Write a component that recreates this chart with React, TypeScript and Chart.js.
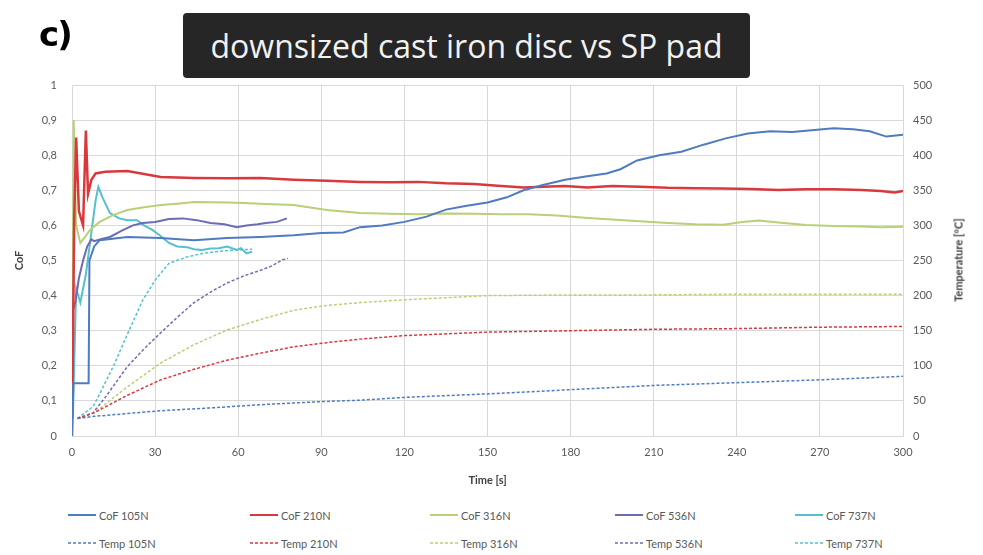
import React, { useEffect, useRef } from 'react';
import { Chart, registerables } from 'chart.js';

Chart.register(...registerables);

// ---------- data ----------
const xTicks = [0, 30, 60, 90, 120, 150, 180, 210, 240, 270, 300];

const cof105T = [0, 0.5, 6, 6.3, 8, 10, 20, 32, 44, 56, 68, 80, 90, 98, 104, 112, 120, 128, 135, 142, 150, 157, 163, 170, 178, 186, 193, 198, 204, 212, 220, 228, 236, 244, 252, 260, 268, 275, 282, 288, 294, 300];
const cof105V = [0, 0.15, 0.15, 0.5, 0.54, 0.558, 0.567, 0.564, 0.558, 0.564, 0.567, 0.572, 0.578, 0.58, 0.595, 0.6, 0.61, 0.625, 0.645, 0.655, 0.665, 0.68, 0.7, 0.715, 0.73, 0.74, 0.748, 0.76, 0.785, 0.8, 0.81, 0.83, 0.848, 0.862, 0.868, 0.866, 0.872, 0.877, 0.874, 0.868, 0.853, 0.858];

const cof210T = [0, 0.8, 1.5, 2.5, 4, 5, 5.8, 7, 8.5, 12, 20, 32, 44, 56, 68, 80, 92, 104, 115, 125, 135, 145, 155, 163, 170, 178, 186, 195, 205, 215, 225, 235, 245, 255, 265, 275, 285, 292, 297, 300];
const cof210V = [0, 0.62, 0.85, 0.64, 0.6, 0.87, 0.69, 0.73, 0.748, 0.753, 0.755, 0.738, 0.735, 0.734, 0.735, 0.73, 0.727, 0.724, 0.723, 0.724, 0.72, 0.718, 0.712, 0.708, 0.71, 0.712, 0.708, 0.712, 0.71, 0.707, 0.706, 0.705, 0.704, 0.701, 0.703, 0.703, 0.701, 0.698, 0.694, 0.698];

const cof316T = [0, 0.6, 1.5, 3, 5, 6.5, 10, 15, 20, 26, 32, 38, 44, 50, 56, 62, 70, 80, 92, 104, 115, 125, 135, 145, 155, 165, 175, 185, 195, 205, 215, 225, 235, 242, 248, 255, 265, 275, 285, 292, 300];
const cof316V = [0, 0.9, 0.6, 0.55, 0.57, 0.587, 0.61, 0.63, 0.644, 0.652, 0.658, 0.662, 0.667, 0.666, 0.665, 0.664, 0.661, 0.658, 0.644, 0.635, 0.633, 0.632, 0.634, 0.633, 0.632, 0.632, 0.628, 0.622, 0.617, 0.612, 0.607, 0.603, 0.602, 0.61, 0.614, 0.608, 0.601, 0.598, 0.597, 0.595, 0.596];

const cof536T = [0.4, 1.2, 2.5, 4, 5.5, 7, 8, 10, 13.7, 18, 22, 25.6, 30, 35, 40, 45, 50, 55, 59.5, 63, 67, 70, 74, 77.6];
const cof536V = [0.36, 0.38, 0.45, 0.5, 0.54, 0.56, 0.555, 0.56, 0.567, 0.585, 0.6, 0.607, 0.61, 0.618, 0.62, 0.615, 0.607, 0.603, 0.595, 0.6, 0.603, 0.607, 0.61, 0.62];

const cof737T = [0.3, 1.5, 3, 5, 7, 8.5, 9.5, 11, 13.7, 17, 20, 23.5, 26, 29, 32, 35, 38, 41.5, 44, 47, 50, 53, 56, 59.5, 61, 63, 65];
const cof737V = [0.05, 0.42, 0.38, 0.46, 0.58, 0.67, 0.71, 0.68, 0.635, 0.62, 0.615, 0.615, 0.6, 0.587, 0.57, 0.55, 0.54, 0.538, 0.532, 0.53, 0.534, 0.535, 0.54, 0.53, 0.535, 0.52, 0.525];

const temp105T = [2, 8, 20, 32, 50, 70, 90, 104, 120, 150, 180, 210, 240, 270, 300];
const temp105V = [25, 28, 32, 36, 40, 45, 49, 51, 55, 60, 66, 72, 76, 80, 85];

const temp210T = [2, 8, 20, 32, 44, 56, 68, 80, 92, 104, 120, 150, 180, 210, 240, 270, 300];
const temp210V = [25, 33, 58, 80, 95, 108, 118, 127, 133, 138, 143, 148, 150, 152, 153, 155, 156];

const temp316T = [2, 8, 20, 32, 44, 56, 68, 80, 92, 104, 120, 135, 150, 180, 210, 240, 270, 300];
const temp316V = [25, 33, 70, 104, 130, 151, 166, 179, 186, 190, 194, 197, 200, 201, 201, 202, 202, 202];

const temp536T = [2, 7.6, 12, 19.8, 26, 32, 38, 43.7, 50, 56, 62, 68, 72, 76, 78];
const temp536V = [25, 33, 55, 98, 124, 147, 169, 189, 205, 218, 228, 236, 242, 251, 253];

const temp737T = [2, 7.6, 10, 15, 20, 25.6, 30, 35, 41.5, 47, 53, 59, 65];
const temp737V = [25, 42, 60, 100, 145, 194, 222, 246, 255, 260, 263, 265, 266];

const seriesNames = ['105N', '210N', '316N', '536N', '737N'];
const seriesColors = ['#4f7bbf', '#d9383d', '#b9cf78', '#6c6cb2', '#55c0cf'];

const FONT = 'Lato, "Open Sans", sans-serif';

const xy = (t: number[], v: number[]) => t.map((x, i) => ({ x, y: v[i] }));

export default function App() {
  const ref = useRef<HTMLCanvasElement>(null);

  useEffect(() => {
    const cofData = [xy(cof105T, cof105V), xy(cof210T, cof210V), xy(cof316T, cof316V), xy(cof536T, cof536V), xy(cof737T, cof737V)];
    const tempData = [xy(temp105T, temp105V), xy(temp210T, temp210V), xy(temp316T, temp316V), xy(temp536T, temp536V), xy(temp737T, temp737V)];

    const datasets: any[] = [];
    seriesNames.forEach((n, i) => {
      datasets.push({
        label: 'CoF ' + n,
        data: cofData[i],
        yAxisID: 'y',
        borderColor: seriesColors[i],
        borderWidth: i === 1 ? 2.5 : 2,
        pointRadius: 0,
        fill: false,
        tension: 0,
      });
    });
    seriesNames.forEach((n, i) => {
      datasets.push({
        label: 'Temp ' + n,
        data: tempData[i],
        yAxisID: 'y2',
        borderColor: seriesColors[i],
        borderWidth: 1.5,
        borderDash: [3, 2],
        pointRadius: 0,
        fill: false,
        tension: 0,
      });
    });

    const tickFont = { family: FONT, size: 11 };
    const titleFont = { family: FONT, size: 11, weight: 'bold' as const };

    const chart = new Chart(ref.current as HTMLCanvasElement, {
      type: 'line',
      data: { datasets },
      options: {
        animation: false,
        responsive: false,
        devicePixelRatio: 1,
        layout: { padding: { top: 85, left: 0, right: 0, bottom: 0 } },
        plugins: { legend: { display: false }, tooltip: { enabled: false } },
        scales: {
          x: {
            type: 'linear',
            min: 0,
            max: 300,
            afterBuildTicks: (s: any) => { s.ticks = xTicks.map((v) => ({ value: v })); },
            afterFit: (s: any) => { s.height = 55; },
            ticks: { font: tickFont, color: '#595959', padding: 10, maxRotation: 0 },
            grid: { color: '#d9d9d9', drawTicks: false },
            border: { color: '#d9d9d9' },
            title: { display: true, text: 'Time [s]', font: titleFont, color: '#404040', padding: { top: 0, bottom: 4 } },
          },
          y: {
            position: 'left',
            min: 0,
            max: 1,
            afterFit: (s: any) => { s.width = 72; },
            ticks: {
              stepSize: 0.1,
              font: tickFont,
              color: '#595959',
              padding: 15,
              callback: (v: any) => {
                const n = Math.round(Number(v) * 10) / 10;
                return n === 0 || n === 1 ? String(n) : n.toFixed(1).replace('.', ',');
              },
            },
            grid: { color: '#d9d9d9', drawTicks: false },
            border: { color: '#d9d9d9' },
            title: { display: true, text: 'CoF', font: titleFont, color: '#404040', padding: { top: 13, bottom: 0 } },
          },
          y2: {
            position: 'right',
            min: 0,
            max: 500,
            afterFit: (s: any) => { s.width = 80; },
            ticks: { stepSize: 50, font: tickFont, color: '#595959', padding: 10 },
            grid: { drawOnChartArea: false, drawTicks: false },
            border: { color: '#d9d9d9' },
          },
        },
      },
    });
    return () => chart.destroy();
  }, []);

  const legendX = [68, 250, 430, 615, 795];
  const legendY = [515, 543];

  return (
    <div style={{ position: 'absolute', left: 0, top: 0, width: 983, height: 555, background: '#ffffff', overflow: 'hidden', fontFamily: FONT }}>
      <canvas ref={ref} width={983} height={491} style={{ position: 'absolute', left: 0, top: 0, width: 983, height: 491 }} />
      <div style={{ position: 'absolute', left: 39, top: 14, fontFamily: '"DejaVu Sans", sans-serif', fontWeight: 900, fontSize: 34, color: '#000', lineHeight: '40px', letterSpacing: -2 }}>c)</div>
      <div style={{ position: 'absolute', left: 183, top: 13, width: 567, height: 65, background: '#262626', borderRadius: 4, display: 'flex', alignItems: 'center', justifyContent: 'center', color: '#f2f2f2', fontFamily: '"Open Sans", sans-serif', fontSize: 32, whiteSpace: 'nowrap' }}>
        downsized cast iron disc vs SP pad
      </div>
      <div style={{ position: 'absolute', left: 958, top: 260, width: 0, height: 0 }}>
        <div style={{ position: 'absolute', left: 0, top: 0, transform: 'translate(-50%, -50%) rotate(-90deg)', whiteSpace: 'nowrap', fontFamily: FONT, fontWeight: 'bold', fontSize: 11, color: '#404040' }}>
          Temperature [°C]
        </div>
      </div>
      {seriesNames.map((n, i) =>
        [0, 1].map((row) => (
          <div key={n + row} style={{ position: 'absolute', left: legendX[i], top: legendY[row] - 8, height: 16, display: 'flex', alignItems: 'center', whiteSpace: 'nowrap', fontSize: 11, color: '#595959' }}>
            <svg width={28} height={6} style={{ marginRight: 3 }}>
              <line x1={0} y1={3} x2={28} y2={3} stroke={seriesColors[i]} strokeWidth={row === 0 ? 2 : 1.5} strokeDasharray={row === 0 ? undefined : '3 2'} />
            </svg>
            <span>{(row === 0 ? 'CoF ' : 'Temp ') + n}</span>
          </div>
        ))
      )}
    </div>
  );
}
